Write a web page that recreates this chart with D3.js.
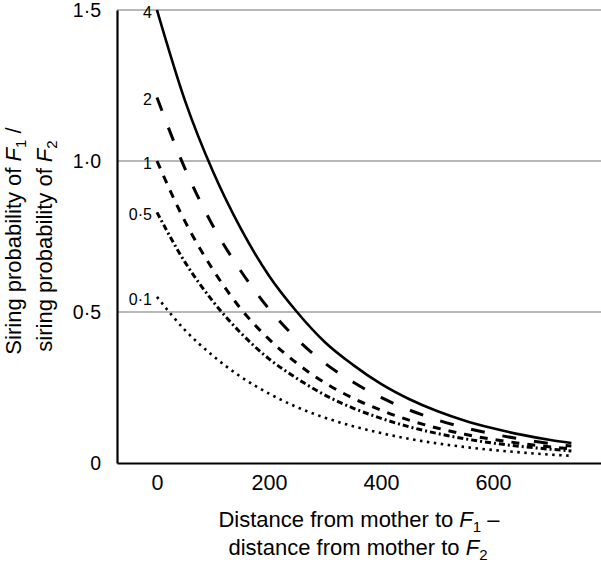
<!DOCTYPE html>
<html>
<head>
<meta charset="utf-8">
<script src="https://cdn.jsdelivr.net/npm/d3@7"></script>
<style>
  body { margin: 0; background: #fff; }
  text { font-family: "Liberation Sans", Arial, sans-serif; fill: #000; }
</style>
</head>
<body>
<svg id="chart"></svg>
<script>
// data
var distances = [0, 50, 100, 150, 200, 250, 300, 350, 400, 450, 500, 550, 600, 650, 700, 740];
var ratio4  = [1.50, 1.20, 0.965, 0.775, 0.62, 0.50, 0.40, 0.325, 0.262, 0.212, 0.172, 0.14, 0.115, 0.094, 0.077, 0.066];
var ratio2  = [1.21, 0.975, 0.785, 0.635, 0.51, 0.41, 0.33, 0.268, 0.217, 0.176, 0.143, 0.117, 0.096, 0.079, 0.065, 0.056];
var ratio1  = [1.00, 0.80, 0.64, 0.51, 0.41, 0.33, 0.265, 0.215, 0.175, 0.142, 0.116, 0.095, 0.078, 0.065, 0.054, 0.047];
var ratio05 = [0.83, 0.665, 0.535, 0.43, 0.345, 0.28, 0.225, 0.182, 0.148, 0.12, 0.098, 0.08, 0.066, 0.055, 0.046, 0.040];
var ratio01 = [0.55, 0.44, 0.355, 0.285, 0.23, 0.185, 0.15, 0.122, 0.099, 0.08, 0.065, 0.053, 0.043, 0.035, 0.028, 0.024];
var curveLabels = ["4", "2", "1", "0·5", "0·1"];
var yTicks = [0, 0.5, 1.0, 1.5];
var yTickLabels = ["0", "0·5", "1·0", "1·5"];
var xTicks = [0, 200, 400, 600];

var allSeries = [ratio4, ratio2, ratio1, ratio05, ratio01];
var dashes = [null, "14,18", "8,8", "6,3,2,3", "2.5,4.5"];
var widths = [2.6, 3, 3, 3, 2.6];

var size = { width: 601, height: 566 };
var plot = { left: 117, right: 601, top: 10, bottom: 463 };

var svg = d3.select("#chart")
  .attr("width", size.width)
  .attr("height", size.height);

var x = d3.scaleLinear()
  .domain([-71.4, 792.9])
  .range([plot.left, plot.right]);

var y = d3.scaleLinear()
  .domain([0, 1.5])
  .range([plot.bottom, plot.top]);

// グリッド線
svg.append("g")
  .selectAll("line")
  .data(yTicks.filter(function(d){ return d > 0; }))
  .enter()
  .append("line")
  .attr("x1", plot.left)
  .attr("x2", plot.right)
  .attr("y1", function(d){ return y(d); })
  .attr("y2", function(d){ return y(d); })
  .attr("stroke", "#a0a0a0")
  .attr("stroke-width", 1.6);

// 軸
var yAxis = d3.axisLeft(y)
  .tickValues(yTicks)
  .tickSize(0)
  .tickPadding(16)
  .tickFormat(function(d, i){ return yTickLabels[i]; });

var xAxis = d3.axisBottom(x)
  .tickValues(xTicks)
  .tickSize(0)
  .tickPadding(12)
  .tickFormat(d3.format("d"));

var gy = svg.append("g")
  .attr("transform", "translate(" + plot.left + ",0)")
  .call(yAxis);
gy.select(".domain").attr("stroke", "#000").attr("stroke-width", 2.2);
gy.selectAll("text").attr("font-size", 19.5).attr("font-family", "Liberation Sans, Arial, sans-serif");

var gx = svg.append("g")
  .attr("transform", "translate(0," + plot.bottom + ")")
  .call(xAxis);
gx.select(".domain").attr("stroke", "#000").attr("stroke-width", 2.2);
gx.selectAll("text").attr("font-size", 21.5).attr("font-family", "Liberation Sans, Arial, sans-serif");

// 曲線
var line = d3.line()
  .x(function(d){ return x(d[0]); })
  .y(function(d){ return y(d[1]); })
  .curve(d3.curveMonotoneX);

allSeries.forEach(function(vals, i){
  var pts = distances.map(function(d, j){ return [d, vals[j]]; });
  svg.append("path")
    .datum(pts)
    .attr("d", line)
    .attr("fill", "none")
    .attr("stroke", "#000")
    .attr("stroke-width", widths[i])
    .attr("stroke-dasharray", dashes[i]);

  svg.append("text")
    .attr("x", x(0) - 5)
    .attr("y", y(vals[0]) + 2)
    .attr("dy", "0.35em")
    .attr("text-anchor", "end")
    .attr("font-size", 16)
    .text(curveLabels[i]);
});

// 軸タイトル
function titleLine(sel, pre, sub, post){
  sel.append("tspan").text(pre);
  sel.append("tspan").attr("font-style", "italic").text("F");
  sel.append("tspan").attr("font-size", 15).attr("dy", 5).text(sub);
  sel.append("tspan").attr("dy", -5).text(post);
}

var xt1 = svg.append("text").attr("x", 359).attr("y", 527)
  .attr("text-anchor", "middle").attr("font-size", 22);
titleLine(xt1, "Distance from mother to ", "1", " –");
var xt2 = svg.append("text").attr("x", 358).attr("y", 555)
  .attr("text-anchor", "middle").attr("font-size", 22);
titleLine(xt2, "distance from mother to ", "2", "");

var yt1 = svg.append("text")
  .attr("transform", "translate(21,241) rotate(-90)")
  .attr("text-anchor", "middle").attr("font-size", 22);
titleLine(yt1, "Siring probability of ", "1", " /");
var yt2 = svg.append("text")
  .attr("transform", "translate(52,246) rotate(-90)")
  .attr("text-anchor", "middle").attr("font-size", 22);
titleLine(yt2, "siring probability of ", "2", "");
</script>
</body>
</html>
